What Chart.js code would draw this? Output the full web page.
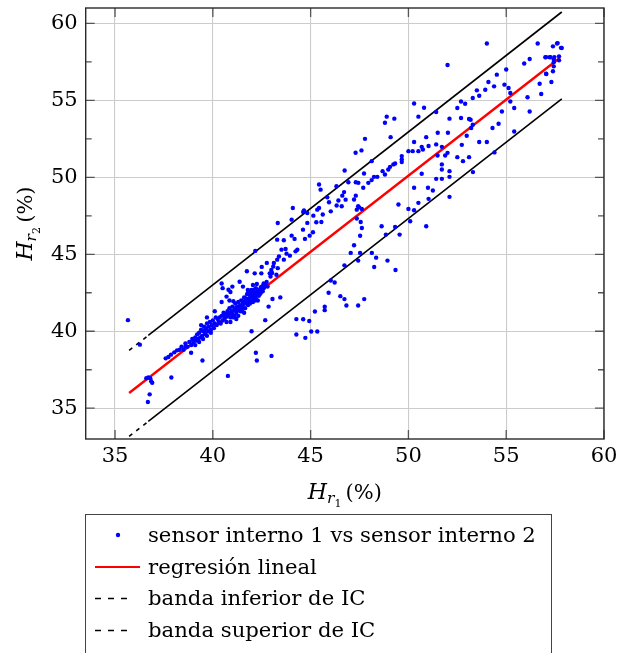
<!DOCTYPE html>
<html>
<head>
<meta charset="utf-8">
<script src="https://cdn.jsdelivr.net/npm/chart.js@4.4.1/dist/chart.umd.min.js"></script>
<style>
  html, body { margin: 0; padding: 0; background: #fff; }
  #wrap { position: relative; width: 618px; height: 653px; overflow: hidden; }
  #c { position: absolute; left: 0; top: 0; }
  #legend { position: absolute; left: 85px; top: 514px; width: 467px; height: 160px;
    border: 1px solid #444; box-sizing: border-box; padding-top: 4px;
    font-family: 'DejaVu Serif', serif; font-size: 21.2px; color: #000; }
  .row { position: relative; height: 31.7px; }
  .row svg { position: absolute; left: 0; top: 0; }
  .row span { position: absolute; left: 62px; top: 50%; transform: translateY(-52%); white-space: nowrap; }
</style>
</head>
<body>
<div id="wrap">
  <canvas id="c" width="618" height="653"></canvas>
  <div id="legend"></div>
</div>
<script>
// ---- data ----
const sensor1 = [
 35.66,36.27,36.6,36.7,36.8,36.85,36.9,36.77,36.68,37.88,38.89,39.47,40.77,37.59,37.73,37.86,38.03,38.17,
 38.3,38.4,38.5,38.6,38.7,38.8,38.9,38.95,39.0,39.1,39.15,39.2,39.25,39.3,39.35,39.4,39.45,39.5,39.55,39.6,39.65,39.7,39.75,39.8,39.85,39.9,39.95,40.0,40.05,40.1,40.15,40.2,40.25,39.5,39.7,39.9,39.3,39.1,40.1,39.7,39.4,
 40.45,40.5,40.8,40.9,40.7,41.0,41.37,41.54,41.79,41.97,42.05,42.14,42.48,42.91,42.99,42.17,42.5,42.76,41.74,42.25,42.6,
 41.98,42.2,42.25,42.68,43.0,42.85,43.05,43.45,
 40.3,40.35,40.4,40.45,40.5,40.55,40.6,40.65,40.7,40.75,40.8,40.85,40.9,40.95,41.0,41.0,41.05,41.1,41.15,41.2,41.25,41.3,41.3,41.35,41.4,41.45,41.5,41.5,41.55,41.6,41.65,41.7,41.7,41.75,41.8,41.85,41.9,41.9,41.95,42.0,42.0,42.05,42.1,42.15,42.2,42.2,42.25,42.3,42.35,42.4,42.45,42.5,42.55,42.6,42.7,42.3,41.6,41.2,40.9,41.8,42.1,
 41.1,41.4,41.6,41.8,42.0,42.2,42.4,42.6,41.3,40.8,40.6,41.9,42.15,41.45,40.7,42.5,42.75,42.8,40.45,40.85,41.05,
 41.25,41.55,41.85,42.05,42.35,42.65,41.15,41.65,42.45,40.55,39.6,39.0,38.6,
 46.74,45.43,45.51,46.32,46.62,46.93,47.31,47.44,47.36,47.56,47.43,47.36,47.31,47.48,47.62,47.62,46.79,46.59,46.42,46.03,45.94,45.85,45.34,45.43,45.14,45.29,45.55,45.62,44.83,44.62,44.66,44.09,44.03,43.32,
 44.61,45.12,44.95,44.71,44.03,44.18,43.63,43.29,43.72,43.51,43.77,44.32,44.23,43.94,43.63,43.38,43.29,43.12,43.09,43.32,43.03,43.25,42.95,44.83,46.71,46.33,47.22,
 47.53,48.85,49.55,47.22,47.05,47.53,48.13,48.35,47.43,48.25,48.93,49.34,46.73,46.03,46.23,45.92,46.52,46.73,46.83,47.43,47.74,45.72,45.72,45.22,44.62,44.93,45.03,45.34,44.73,44.27,44.27,
 50.29,50.8,51.42,50.51,48.89,48.8,49.28,49.09,47.78,47.6,48.12,47.73,48.24,48.41,48.12,47.95,47.69,48.68,48.8,48.97,49.06,49.23,49.32,49.66,49.66,49.66,50.0,50.22,50.29,50.51,50.74,50.68,51.03,50.91,51.42,51.5,52.02,52.1,
 52.79,53.3,51.71,52.0,51.88,51.49,51.71,51.71,51.42,51.71,52.1,52.1,50.68,50.29,51.0,51.25,51.03,52.1,49.49,50.0,50.51,50.29,50.09,50.91,49.32,48.63,52.0,47.3,
 54.01,56.61,57.39,57.6,57.8,57.0,57.22,57.43,57.7,57.7,57.43,57.43,57.39,56.2,55.92,57.05,57.31,56.71,56.79,55.0,54.52,54.09,54.38,54.91,55.12,55.21,53.5,53.93,53.62,53.29,52.69,52.9,52.5,52.69,53.1,53.18,53.29,53.21,52.98,52.73,53.62,54.01,54.3,54.61,54.78,55.21,55.41,56.09,56.2,55.41,52.5,53.1,54.4,
 57.63,57.84,57.46,57.26,57.04,57.04
];
const sensor2 = [
 40.72,39.13,36.95,37.0,36.95,36.75,36.65,35.9,35.4,37.0,38.6,38.1,37.1,38.24,38.33,38.48,38.63,38.76,
 38.8,39.0,38.8,39.2,39.0,39.3,39.1,39.5,39.3,39.6,39.4,39.8,39.5,39.9,39.6,40.1,39.7,40.0,40.3,39.8,40.2,40.5,40.0,40.3,40.6,40.1,40.4,40.7,40.2,40.5,40.9,40.4,40.8,39.5,39.7,39.9,39.3,39.1,41.3,40.9,40.4,
 43.1,42.8,42.7,42.55,42.25,42.9,43.22,42.9,42.68,42.68,43.0,43.76,43.76,43.76,43.98,45.22,44.18,44.44,43.9,43.07,43.03,
 40.0,38.6,38.1,40.72,38.4,41.6,42.1,42.2,
 40.6,40.9,40.5,41.0,40.7,41.2,40.8,41.1,40.6,41.3,41.0,41.5,40.9,41.3,41.6,41.1,40.9,41.4,41.8,41.2,41.6,41.0,41.9,41.4,41.7,42.0,41.3,41.6,41.9,42.2,41.5,41.8,42.1,42.4,41.7,42.0,42.3,41.8,42.6,42.1,42.4,41.9,42.2,42.5,42.1,42.8,42.4,42.6,42.3,42.7,42.5,42.9,42.6,42.8,43.0,42.0,41.2,40.8,40.6,42.5,42.7,
 41.0,41.3,41.9,42.1,42.0,42.3,42.4,43.1,41.6,41.2,41.0,42.6,42.0,41.4,40.95,42.65,43.2,42.9,41.9,42.0,41.95,
 41.45,41.75,41.95,42.3,42.6,42.95,41.5,42.15,42.85,41.05,40.05,39.45,39.0,
 50.44,49.53,49.2,49.42,48.81,49.68,49.68,49.64,47.32,47.1,48.12,47.9,48.81,48.05,47.94,46.71,48.55,48.12,48.49,47.79,48.38,48.7,47.9,48.01,47.51,47.08,47.1,47.58,47.68,47.75,47.84,48.01,47.25,47.03,
 46.6,46.43,46.21,46.0,46.21,46.0,45.91,45.95,45.34,45.3,45.04,45.3,45.19,44.91,44.65,44.86,44.65,44.43,44.21,44.1,43.78,43.67,43.56,47.04,49.04,48.17,48.56,
 46.2,46.28,46.28,45.59,45.09,45.09,45.09,44.78,44.59,44.17,44.59,43.98,44.28,43.3,43.17,42.5,42.28,42.09,41.67,41.67,42.09,41.59,41.37,41.28,40.78,40.67,39.98,39.98,39.57,40.79,39.79,
 54.8,54.52,54.24,53.94,53.94,53.55,53.81,52.61,52.5,51.75,51.05,50.25,50.03,50.03,49.82,49.64,49.32,50.4,50.18,50.51,50.68,50.84,50.9,51.38,51.16,50.99,51.7,51.7,52.29,51.7,51.81,51.98,52.03,52.61,52.14,52.9,52.9,53.81,
 51.05,50.34,51.98,51.59,51.42,51.42,50.84,50.51,49.9,49.9,50.03,50.4,50.23,49.32,49.32,49.14,48.6,48.73,48.23,47.95,48.34,47.86,47.15,46.82,46.78,46.82,57.3,51.6,
 58.69,58.69,58.51,58.69,58.41,57.8,57.8,57.65,57.86,57.6,57.47,57.21,56.89,57.69,57.39,56.71,56.19,56.08,55.41,57.0,56.67,56.19,55.91,56.02,55.8,55.48,55.65,55.69,55.3,55.15,54.93,54.78,54.5,53.85,53.79,53.74,53.42,53.2,52.7,52.11,52.29,52.29,53.2,53.48,54.28,54.93,54.5,55.2,54.28,52.98,51.31,51.31,51.62,
 58.72,58.4,57.81,57.81,57.81,56.73
];
const regressionX = [35.72, 57.75];
const regressionY = [35.99, 57.77];
const lowerBandX = [35.72, 36.7, 57.84];
const lowerBandY = [33.17, 34.14, 55.10];
const upperBandX = [35.72, 36.7, 57.84];
const upperBandY = [38.76, 39.73, 60.74];
const xTicks = [35, 40, 45, 50, 55, 60];
const yTicks = [35, 40, 45, 50, 55, 60];
const yMinorTicks = [37.5, 42.5, 47.5, 52.5, 57.5];
const seriesLabels = ['sensor interno 1 vs sensor interno 2', 'regresión lineal', 'banda inferior de IC', 'banda superior de IC'];

const pairs = (xs, ys) => xs.map((v, i) => ({ x: v, y: ys[i] }));
const FONT = "'DejaVu Serif', serif";
Chart.defaults.font.family = FONT;
Chart.defaults.font.size = 21;
Chart.defaults.color = '#000';

const framePlugin = {
  id: 'frame',
  beforeDatasetsDraw(chart) {
    const { ctx, chartArea: a, scales: { x, y } } = chart;
    ctx.save();
    ctx.strokeStyle = '#555';
    ctx.lineWidth = 1.3;
    ctx.beginPath();
    const TL = 9, TM = 6;
    xTicks.forEach(v => { const p = x.getPixelForValue(v);
      ctx.moveTo(p, a.top); ctx.lineTo(p, a.top + TL);
      ctx.moveTo(p, a.bottom); ctx.lineTo(p, a.bottom - TL); });
    yTicks.forEach(v => { const p = y.getPixelForValue(v);
      ctx.moveTo(a.left, p); ctx.lineTo(a.left + TL, p);
      ctx.moveTo(a.right, p); ctx.lineTo(a.right - TL, p); });
    yMinorTicks.forEach(v => { const p = y.getPixelForValue(v);
      ctx.moveTo(a.left, p); ctx.lineTo(a.left + TM, p);
      ctx.moveTo(a.right, p); ctx.lineTo(a.right - TM, p); });
    ctx.stroke();
    ctx.restore();
  },
  afterDraw(chart) {
    const { ctx, chartArea: a } = chart;
    ctx.save();
    ctx.strokeStyle = '#2a2a2a';
    ctx.lineWidth = 1.4;
    ctx.strokeRect(a.left, a.top, a.right - a.left, a.bottom - a.top);
    const drawTitle = (sub) => {
      const parts = [
        { t: 'H', f: 'italic 22px ' + FONT, dy: 0 },
        { t: 'r', f: 'italic 15.5px ' + FONT, dy: 4 },
        { t: sub, f: '11px ' + FONT, dy: 8 },
        { t: '\u2009(%)', f: '21px ' + FONT, dy: 0 }
      ];
      let w = 0;
      parts.forEach(p => { ctx.font = p.f; p.w = ctx.measureText(p.t).width; w += p.w; });
      let cx = -w / 2;
      ctx.fillStyle = '#000';
      ctx.textBaseline = 'alphabetic';
      ctx.textAlign = 'left';
      parts.forEach(p => { ctx.font = p.f; ctx.fillText(p.t, cx, p.dy); cx += p.w; });
    };
    const midX = (a.left + a.right) / 2, midY = (a.top + a.bottom) / 2;
    ctx.save(); ctx.translate(midX, 499); drawTitle('1'); ctx.restore();
    ctx.save(); ctx.translate(32, midY); ctx.rotate(-Math.PI / 2); drawTitle('2'); ctx.restore();
    ctx.restore();
  }
};

new Chart(document.getElementById('c'), {
  type: 'scatter',
  data: {
    datasets: [
      { label: seriesLabels[0], data: pairs(sensor1, sensor2), pointRadius: 2.2, pointHoverRadius: 2.2,
        backgroundColor: '#0000ff', borderWidth: 0, showLine: false, order: 0 },
      { label: seriesLabels[1], data: pairs(regressionX, regressionY), showLine: true, borderColor: '#ff0000',
        borderWidth: 2.4, pointRadius: 0, order: 1 },
      { label: seriesLabels[2], data: pairs(lowerBandX, lowerBandY), showLine: true, borderColor: '#000',
        borderWidth: 1.6, pointRadius: 0, order: 2,
        segment: { borderDash: c => c.p0DataIndex === 0 ? [4, 5] : [] } },
      { label: seriesLabels[3], data: pairs(upperBandX, upperBandY), showLine: true, borderColor: '#000',
        borderWidth: 1.6, pointRadius: 0, order: 3,
        segment: { borderDash: c => c.p0DataIndex === 0 ? [4, 5] : [] } }
    ]
  },
  options: {
    responsive: false,
    animation: false,
    events: [],
    layout: { padding: { left: 0, right: 14, top: 8, bottom: 144 } },
    plugins: { legend: { display: false }, tooltip: { enabled: false } },
    scales: {
      x: {
        type: 'linear', min: 33.5, max: 60,
        afterBuildTicks: s => { s.ticks = xTicks.map(v => ({ value: v })); },
        afterFit: s => { s.height = 70; s.paddingLeft = 0; s.paddingRight = 0; },
        ticks: { padding: 5, color: '#000', font: { size: 21 } },
        grid: { color: '#cccccc', lineWidth: 1.1, drawTicks: false },
        border: { display: false }
      },
      y: {
        type: 'linear', min: 33, max: 61,
        afterBuildTicks: s => { s.ticks = yTicks.map(v => ({ value: v })); },
        afterFit: s => { s.width = 85.7; s.paddingTop = 0; s.paddingBottom = 0; },
        ticks: { padding: 8, color: '#000', font: { size: 21 } },
        grid: { color: '#cccccc', lineWidth: 1.1, drawTicks: false },
        border: { display: false }
      }
    }
  },
  plugins: [framePlugin]
});

const legend = document.getElementById('legend');
const icons = [
  '<circle cx="32" cy="16" r="2.2" fill="#0000ff"/>',
  '<line x1="9" y1="16" x2="54" y2="16" stroke="#ff0000" stroke-width="2.2"/>',
  '<line x1="9" y1="16.5" x2="48" y2="16.5" stroke="#000" stroke-width="1.3" stroke-dasharray="6,7"/>',
  '<line x1="9" y1="16.5" x2="48" y2="16.5" stroke="#000" stroke-width="1.3" stroke-dasharray="6,7"/>'
];
seriesLabels.forEach((lab, i) => {
  const row = document.createElement('div');
  row.className = 'row';
  row.innerHTML = '<svg width="60" height="32">' + icons[i] + '</svg><span>' + lab + '</span>';
  legend.appendChild(row);
});
</script>
</body>
</html>
